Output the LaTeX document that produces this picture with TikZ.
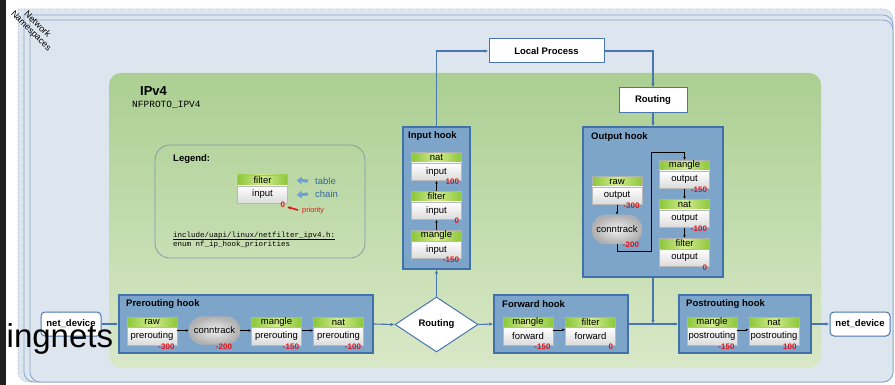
\documentclass[tikz,border=0pt]{standalone}
\usepackage{fontspec}
\setmainfont{Liberation Sans}
\setmonofont{Liberation Mono}
\usetikzlibrary{arrows.meta,shapes.geometric}

\definecolor{nsfill}{HTML}{DDE5EF}
\definecolor{nsline}{HTML}{8DA5CC}
\definecolor{nsdot}{HTML}{A4B0C0}
\definecolor{ipgreenA}{HTML}{ABCF92}
\definecolor{ipgreenB}{HTML}{D9E8C8}
\definecolor{hookfill}{HTML}{7DA5CA}
\definecolor{hookline}{HTML}{4270A8}
\definecolor{wirecol}{HTML}{4A76B0}
\definecolor{tabdark}{HTML}{8CC63A}
\definecolor{tablight}{HTML}{D2EC8E}
\definecolor{priored}{HTML}{E3141B}
\definecolor{legline}{HTML}{7D97AC}
\definecolor{legblue}{HTML}{6E9FDA}
\definecolor{legtext}{HTML}{34689C}

\begin{document}
\begin{tikzpicture}[x=1pt,y=-1pt,
  hook/.style={draw=hookline, fill=hookfill, line width=1.2pt, inner sep=0pt},
  hooktitle/.style={anchor=west, inner sep=0pt, font=\fontsize{9.5}{11}\selectfont\bfseries},
  tbl/.style={draw=gray!60, line width=0.4pt, left color=tabdark, right color=tabdark, middle color=tablight, minimum width=50pt, minimum height=10.5pt, inner sep=0pt, font=\fontsize{9.5}{10}\selectfont},
  chn/.style={draw=gray!55, line width=0.4pt, top color=white, bottom color=gray!28, minimum width=50pt, minimum height=17.5pt, inner sep=0pt, font=\fontsize{9.5}{10}\selectfont},
  ctk/.style={draw=gray!60, line width=0.4pt, rounded corners=14pt, inner color=gray!12, outer color=gray!62, minimum width=51pt, minimum height=28pt, inner sep=0pt, font=\fontsize{9.5}{10}\selectfont},
  prionum/.style={anchor=east, inner sep=0pt, text=priored, font=\fontsize{8}{8}\selectfont\bfseries},
  plainbox/.style={draw=wirecol, fill=white, line width=1pt, inner sep=0pt, font=\fontsize{9.5}{11}\selectfont\bfseries},
  wireto/.style={draw=wirecol, line width=1.1pt, -{Latex[length=4pt,width=3.5pt]}},
  link/.style={black, line width=0.6pt, -{Latex[length=3pt,width=2.6pt]}}]

\useasboundingbox (0,0) rectangle (895,385);
\fill[white] (0,0) rectangle (895,385);

\filldraw[fill=nsfill, draw=nsdot, densely dotted, line width=0.6pt] (18,40) -- (18,9) [rounded corners=10pt] -- (893,9) -- (893,382) -- (18,382) -- cycle;
\filldraw[fill=nsfill, draw=nsline, line width=0.8pt] (24,40) -- (24,15) [rounded corners=10pt] -- (893,15) -- (893,382) -- (24,382) -- cycle;
\filldraw[fill=nsfill, draw=nsline, line width=0.8pt] (30,40) -- (30,20) [rounded corners=10pt] -- (893,20) -- (893,382) -- (30,382) -- cycle;
\node[rotate=-45, align=center, inner sep=0pt, font=\fontsize{9}{9}\selectfont] (nsl) at (34,28) {Network\\Namespaces};

\shade[top color=ipgreenA, bottom color=ipgreenB, rounded corners=12pt] (109,73) rectangle (821,368);
\node[anchor=west, inner sep=0pt, font=\fontsize{13}{14}\selectfont\bfseries] (ipv) at (140,91) {IPv4};
\node[anchor=west, inner sep=0pt, font=\fontsize{9.5}{10}\selectfont\ttfamily] (ipvn) at (132,105) {NFPROTO\_IPV4};

\draw[legline, rounded corners=15pt, line width=0.7pt] (155,145) rectangle (365,258);
\node[anchor=west, inner sep=0pt, font=\fontsize{9.5}{11}\selectfont\bfseries] (lgh) at (173,159) {Legend:};
\node[tbl] (lgt) at (262.5,180.25) {filter};
\node[chn] (lgc) at (262.5,194.5) {input};
\node[prionum] (lg0) at ([xshift=-2.5pt,yshift=-1.5pt]lgc.south east) {0};
\node[anchor=west, inner sep=0pt, text=priored, font=\fontsize{7.3}{8}\selectfont] (lgpri) at (302,211) {priority};
\node[anchor=west, inner sep=0pt, text=legtext, font=\fontsize{9.5}{10}\selectfont] (lgtab) at (315,181) {table};
\node[anchor=west, inner sep=0pt, text=legtext, font=\fontsize{9.5}{10}\selectfont] (lgchn) at (315,194) {chain};
\draw[legblue, line width=3pt, -{Triangle[length=5pt,width=7.5pt]}] ([xshift=-7pt]lgtab.west) -- ([xshift=9pt]lgt.east);
\draw[legblue, line width=3pt, -{Triangle[length=5pt,width=7.5pt]}] ([xshift=-7pt]lgchn.west) -- ([xshift=9pt,yshift=-0.5pt]lgc.east);
\draw[priored, line width=1.6pt, -{Latex[length=3pt,width=3.5pt]}] ([xshift=-4pt,yshift=1pt]lgpri.west) -- ([xshift=2pt,yshift=1pt]lg0.south east);
\node[anchor=west, inner sep=0pt, font=\fontsize{7.5}{8}\selectfont\ttfamily] (lgf) at (173,236) {include/uapi/linux/netfilter\_ipv4.h:};
\draw[line width=0.4pt] ([yshift=-1.2pt]lgf.base west) -- ([yshift=-1.2pt]lgf.base east);
\node[anchor=west, inner sep=0pt, font=\fontsize{7.5}{8}\selectfont\ttfamily] (lge) at (173,244.5) {enum nf\_ip\_hook\_priorities};

\node[plainbox, minimum width=115pt, minimum height=24pt] (lp) at (546.5,51) {Local Process};
\node[plainbox, minimum width=68pt, minimum height=25pt] (rtop) at (653,100.5) {Routing};
\node[plainbox, rounded corners=4pt, minimum width=60pt, minimum height=24pt] (nd1) at (71,324) {net\_device};
\node[plainbox, rounded corners=4pt, minimum width=60pt, minimum height=24pt] (nd2) at (860,324) {net\_device};
\node[plainbox, diamond, aspect=1.5, minimum width=83pt, minimum height=55pt] (rt) at (436.5,324.5) {Routing};

\node[hook, minimum width=254pt, minimum height=58pt] (pre) at (246,324) {};
\node[hooktitle] (preT) at (126,304) {Prerouting hook};
\node[tbl] (r1t) at (152,322.25) {raw};
\node[chn] (r1c) at (152,336.25) {prerouting};
\node[ctk] (ct1) at (214.5,330.5) {conntrack};
\node[tbl] (m1t) at (276.5,322.25) {mangle};
\node[chn] (m1c) at (276.5,336.25) {prerouting};
\node[tbl] (n1t) at (338.5,322.25) {nat};
\node[chn] (n1c) at (338.5,336.25) {prerouting};
\node[prionum] (r1p) at ([xshift=-2.5pt,yshift=-1.5pt]r1c.south east) {-300};
\node[prionum] (ct1p) at ([xshift=-8pt,yshift=-2pt]ct1.south east) {-200};
\node[prionum] (m1p) at ([xshift=-2.5pt,yshift=-1.5pt]m1c.south east) {-150};
\node[prionum] (n1p) at ([xshift=-2.5pt,yshift=-1.5pt]n1c.south east) {-100};
\draw[link] (r1c.east |- ct1.west) -- (ct1.west);
\draw[link] (ct1.east) -- (m1c.west |- ct1.east);
\draw[link] (m1c.east |- ct1.east) -- (n1c.west |- ct1.east);

\node[hook, minimum width=67pt, minimum height=142pt] (inp) at (436.5,198) {};
\node[hooktitle] (inpT) at (408,136) {Input hook};
\node[tbl] (n2t) at (436.5,157.5) {nat};
\node[chn] (n2c) at (436.5,171.75) {input};
\node[tbl] (f2t) at (436.5,196.5) {filter};
\node[chn] (f2c) at (436.5,210.75) {input};
\node[tbl] (m2t) at (436.5,235.5) {mangle};
\node[chn] (m2c) at (436.5,249.75) {input};
\node[prionum] (n2p) at ([xshift=-2.5pt,yshift=-1.5pt]n2c.south east) {100};
\node[prionum] (f2p) at ([xshift=-2.5pt,yshift=-1.5pt]f2c.south east) {0};
\node[prionum] (m2p) at ([xshift=-2.5pt,yshift=-1.5pt]m2c.south east) {-150};
\draw[link] (m2t.north) -- (f2c.south);
\draw[link] (f2t.north) -- (n2c.south);

\node[hook, minimum width=140pt, minimum height=150pt] (out) at (653,202) {};
\node[hooktitle] (outT) at (591,137) {Output hook};
\node[tbl] (r4t) at (617,181.5) {raw};
\node[chn] (r4c) at (617,195.75) {output};
\node[ctk, minimum width=50pt, minimum height=29pt] (ct4) at (617,229.5) {conntrack};
\node[tbl] (m4t) at (684.5,165.5) {mangle};
\node[chn] (m4c) at (684.5,179.75) {output};
\node[tbl] (n4t) at (684.5,204.5) {nat};
\node[chn] (n4c) at (684.5,218.75) {output};
\node[tbl] (f4t) at (684.5,243.5) {filter};
\node[chn] (f4c) at (684.5,257.75) {output};
\node[prionum] (r4p) at ([xshift=-2.5pt,yshift=-1.5pt]r4c.south east) {-300};
\node[prionum] (ct4p) at ([xshift=-3pt,yshift=-1pt]ct4.south east) {-200};
\node[prionum] (m4p) at ([xshift=-2.5pt,yshift=-1.5pt]m4c.south east) {-150};
\node[prionum] (n4p) at ([xshift=-2.5pt,yshift=-1.5pt]n4c.south east) {-100};
\node[prionum] (f4p) at ([xshift=-2.5pt,yshift=-1.5pt]f4c.south east) {0};
\draw[link] (r4c.south) -- (ct4.north);
\draw[link] (ct4.south) -- ++(0,7) -| ([xshift=-33.5pt,yshift=8pt]m4t.north) -| (m4t.north);
\draw[link] (m4c.south) -- (n4t.north);
\draw[link] (n4c.south) -- (f4t.north);

\node[hook, minimum width=134pt, minimum height=58pt] (fwd) at (561,324) {};
\node[hooktitle] (fwdT) at (502,304) {Forward hook};
\node[tbl] (m3t) at (528,322.25) {mangle};
\node[chn] (m3c) at (528,336.25) {forward};
\node[tbl] (f3t) at (590.5,322.25) {filter};
\node[chn] (f3c) at (590.5,336.25) {forward};
\node[prionum] (m3p) at ([xshift=-2.5pt,yshift=-1.5pt]m3c.south east) {-150};
\node[prionum] (f3p) at ([xshift=-2.5pt,yshift=-1.5pt]f3c.south east) {0};
\draw[link] ([yshift=-2.5pt]m3c.north east) -- ([yshift=-2.5pt]f3c.north west);

\node[hook, minimum width=132pt, minimum height=58pt] (post) at (745,324) {};
\node[hooktitle] (postT) at (686,304) {Postrouting hook};
\node[tbl] (m5t) at (712,322.25) {mangle};
\node[chn] (m5c) at (712,336.25) {postrouting};
\node[tbl] (n5t) at (774,322.25) {nat};
\node[chn] (n5c) at (774,336.25) {postrouting};
\node[prionum] (m5p) at ([xshift=-2.5pt,yshift=-1.5pt]m5c.south east) {-150};
\node[prionum] (n5p) at ([xshift=-2.5pt,yshift=-1.5pt]n5c.south east) {100};
\draw[link] ([yshift=-2.5pt]m5c.north east) -- ([yshift=-2.5pt]n5c.north west);

\draw[wireto] (nd1.east) -- (pre.west);
\draw[wireto] (pre.east) -- (rt.west);
\draw[wireto] (rt.east) -- (fwd.west);
\draw[wireto] (fwd.east) -- (post.west);
\draw[wireto] (post.east) -- (nd2.west);
\draw[wireto] (rt.north) -- (inp.south);
\draw[wireto] (inp.north) |- (lp.west);
\draw[wireto] (lp.east) -| (rtop.north);
\draw[wireto] (rtop.south) -- (out.north);
\draw[wireto] (out.south) -- (out.south |- post.west);

\node[anchor=base west, inner sep=0pt, font=\fontsize{33}{33}\selectfont] (cap) at (6.5,347) {ingnets};
\fill[black!88] (0,0) rectangle (6,385);
\end{tikzpicture}
\end{document}
